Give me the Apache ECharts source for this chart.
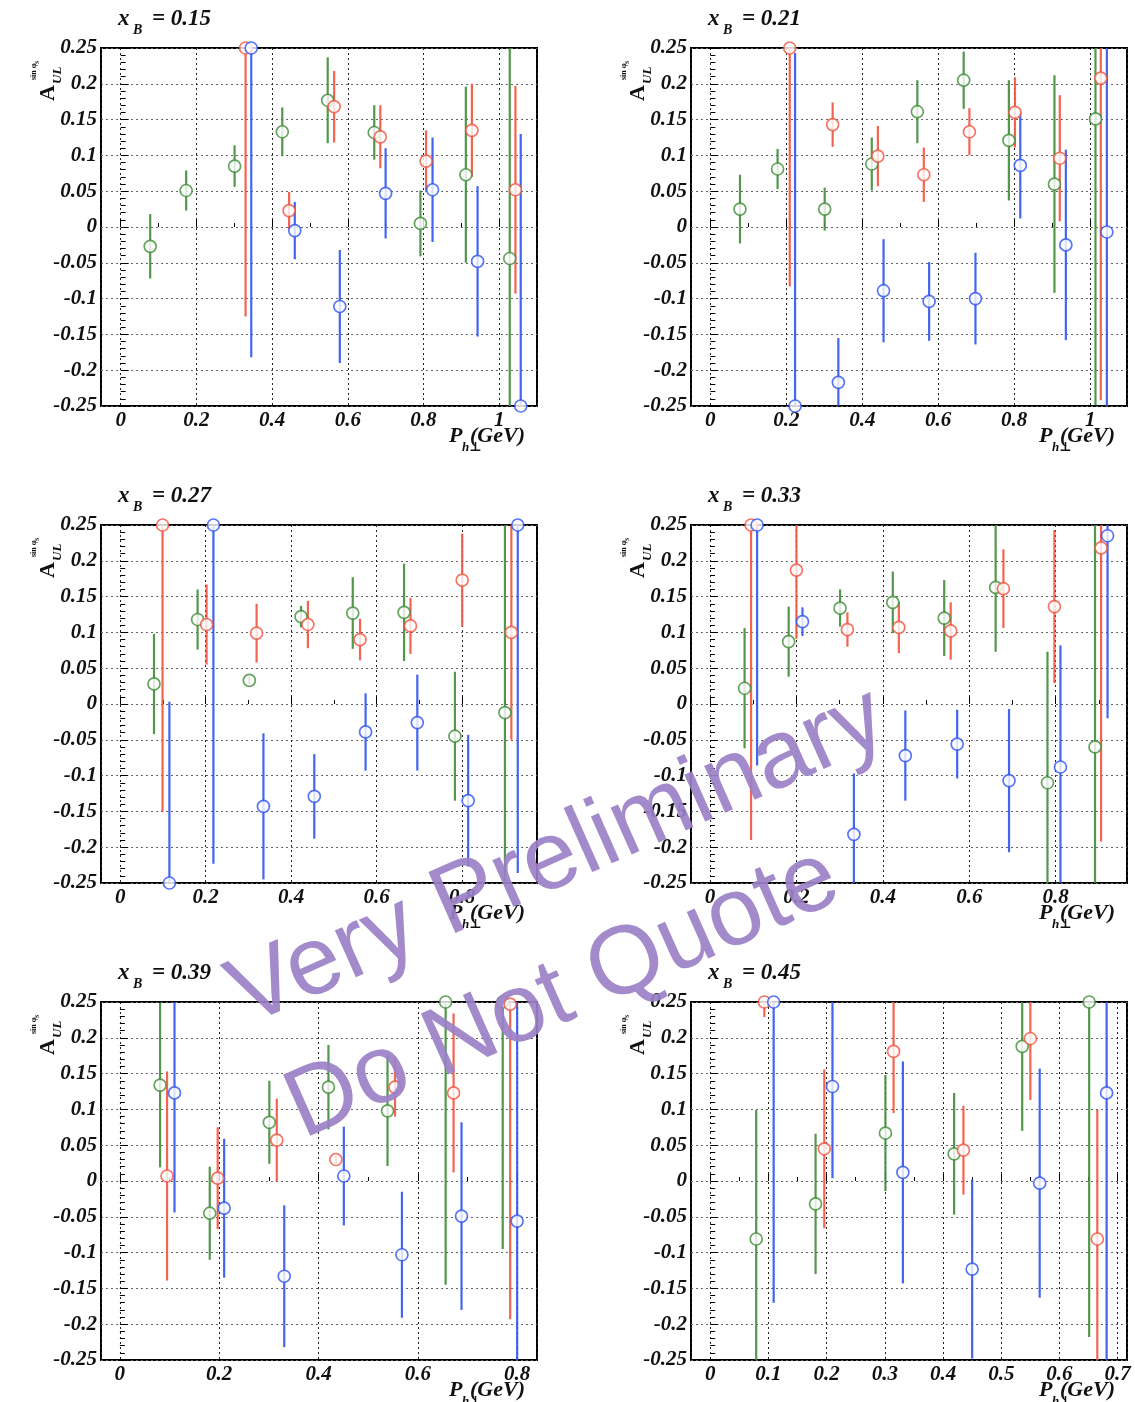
<!DOCTYPE html>
<html>
<head>
<meta charset="utf-8">
<script src="https://cdn.jsdelivr.net/npm/echarts@6/dist/echarts.min.js"></script>
<style>
  html, body { margin: 0; background: #fff; }
  #chart { width: 1135px; height: 1402px; }
</style>
</head>
<body>
<div id="chart"></div>
<script>
// x_B bins, one panel each
const xbLabels = ['0.15', '0.21', '0.27', '0.33', '0.39', '0.45']
const xMin = [-0.052, -0.051, -0.045, -0.044, -0.038, -0.033]
const xMax = [1.1, 1.097, 0.975, 0.965, 0.84, 0.716]
const xStep = [0.2, 0.2, 0.2, 0.2, 0.2, 0.1]

// points: [P_h (GeV), A_UL, error]
const green015 = [[0.078, -0.027, 0.045], [0.173, 0.051, 0.028], [0.301, 0.085, 0.029], [0.427, 0.133, 0.034], [0.547, 0.177, 0.06], [0.670, 0.132, 0.038], [0.792, 0.005, 0.046], [0.912, 0.073, 0.123], [1.028, -0.044, 0.35]]
const red015 = [[0.330, 0.25, 0.375], [0.445, 0.023, 0.026], [0.564, 0.168, 0.05], [0.686, 0.126, 0.044], [0.807, 0.092, 0.043], [0.928, 0.135, 0.065], [1.043, 0.052, 0.145]]
const blue015 = [[0.345, 0.25, 0.432], [0.460, -0.005, 0.04], [0.579, -0.111, 0.079], [0.700, 0.047, 0.063], [0.824, 0.052, 0.073], [0.943, -0.048, 0.105], [1.057, -0.25, 0.38]]

const green021 = [[0.078, 0.025, 0.048], [0.177, 0.081, 0.028], [0.301, 0.025, 0.03], [0.425, 0.088, 0.037], [0.545, 0.161, 0.044], [0.667, 0.205, 0.04], [0.786, 0.121, 0.084], [0.906, 0.06, 0.152], [1.014, 0.151, 0.4]]
const red021 = [[0.209, 0.25, 0.333], [0.322, 0.143, 0.031], [0.441, 0.099, 0.042], [0.562, 0.073, 0.038], [0.682, 0.133, 0.033], [0.802, 0.16, 0.049], [0.920, 0.096, 0.088], [1.028, 0.208, 0.45]]
const blue021 = [[0.223, -0.25, 0.493], [0.337, -0.217, 0.062], [0.456, -0.089, 0.072], [0.576, -0.104, 0.055], [0.698, -0.1, 0.064], [0.816, 0.086, 0.074], [0.936, -0.025, 0.133], [1.044, -0.007, 0.4]]

const green027 = [[0.079, 0.028, 0.07], [0.181, 0.118, 0.042], [0.302, 0.033, 0.005], [0.423, 0.122, 0.015], [0.544, 0.127, 0.05], [0.664, 0.128, 0.068], [0.783, -0.045, 0.09], [0.900, -0.012, 0.4]]
const red027 = [[0.099, 0.25, 0.4], [0.202, 0.111, 0.056], [0.319, 0.099, 0.041], [0.439, 0.111, 0.033], [0.561, 0.09, 0.029], [0.679, 0.109, 0.039], [0.8, 0.173, 0.065], [0.915, 0.1, 0.15]]
const blue027 = [[0.115, -0.25, 0.253], [0.218, 0.25, 0.473], [0.335, -0.143, 0.102], [0.454, -0.129, 0.059], [0.574, -0.039, 0.054], [0.695, -0.026, 0.067], [0.814, -0.135, 0.092], [0.930, 0.25, 0.486]]

const green033 = [[0.08, 0.022, 0.084], [0.182, 0.087, 0.049], [0.301, 0.134, 0.026], [0.423, 0.142, 0.043], [0.542, 0.12, 0.053], [0.661, 0.163, 0.09], [0.781, -0.11, 0.183], [0.891, -0.06, 0.35]]
const red033 = [[0.095, 0.25, 0.44], [0.2, 0.187, 0.096], [0.318, 0.104, 0.024], [0.437, 0.107, 0.036], [0.557, 0.102, 0.04], [0.679, 0.161, 0.055], [0.797, 0.136, 0.107], [0.905, 0.218, 0.41]]
const blue033 = [[0.109, 0.25, 0.336], [0.214, 0.115, 0.02], [0.333, -0.182, 0.085], [0.452, -0.072, 0.063], [0.572, -0.056, 0.048], [0.692, -0.107, 0.1], [0.811, -0.088, 0.17], [0.92, 0.235, 0.255]]

const green039 = [[0.081, 0.134, 0.115], [0.181, -0.045, 0.065], [0.301, 0.082, 0.058], [0.42, 0.131, 0.059], [0.539, 0.098, 0.077], [0.656, 0.25, 0.395], [0.771, 0.25, 0.345]]
const red039 = [[0.095, 0.007, 0.146], [0.197, 0.004, 0.071], [0.316, 0.057, 0.058], [0.435, 0.03, 0.006], [0.554, 0.131, 0.041], [0.672, 0.123, 0.111], [0.786, 0.247, 0.44]]
const blue039 = [[0.11, 0.123, 0.167], [0.21, -0.038, 0.097], [0.331, -0.133, 0.099], [0.451, 0.007, 0.069], [0.568, -0.103, 0.088], [0.688, -0.049, 0.131], [0.8, -0.056, 0.31]]

const green045 = [[0.079, -0.081, 0.18], [0.181, -0.032, 0.098], [0.301, 0.067, 0.081], [0.419, 0.038, 0.085], [0.536, 0.188, 0.118], [0.651, 0.25, 0.468]]
const red045 = [[0.093, 0.25, 0.021], [0.196, 0.045, 0.111], [0.315, 0.181, 0.086], [0.435, 0.043, 0.062], [0.55, 0.199, 0.086], [0.665, -0.081, 0.18]]
const blue045 = [[0.109, 0.25, 0.42], [0.21, 0.132, 0.128], [0.331, 0.012, 0.155], [0.45, -0.123, 0.125], [0.566, -0.003, 0.16], [0.681, 0.123, 0.4]]

const greenSets = [green015, green021, green027, green033, green039, green045]
const redSets = [red015, red021, red027, red033, red039, red045]
const blueSets = [blue015, blue021, blue027, blue033, blue039, blue045]

const COLORS = { green: '#3f8c37', red: '#f2533e', blue: '#2f54ef' }
const SERIF = "'Liberation Serif', 'DejaVu Serif', serif"
const PANELS = [
  { left: 101, top: 48 }, { left: 691, top: 48 },
  { left: 101, top: 525 }, { left: 691, top: 525 },
  { left: 101, top: 1002 }, { left: 691, top: 1002 },
]
const PW = 436
const PH = 358

function txt(text, x, y, size, style, extra) {
  return {
    type: 'text', x, y, z: 10, silent: true,
    style: Object.assign({
      text, font: `${style} ${size}px ${SERIF}`, fill: '#111',
      textAlign: 'left', textVerticalAlign: 'bottom',
    }, extra || {}),
  }
}

function panelGraphics(i) {
  const { left, top } = PANELS[i]
  const right = left + PW
  const bottom = top + PH
  return [
    txt('x', left + 17, top - 17, 23, 'italic bold'),
    txt('B', left + 32, top - 11, 14, 'italic bold'),
    txt('= ' + xbLabels[i], left + 51, top - 17, 23, 'italic bold'),
    txt('P', right - 88, bottom + 41, 22, 'italic bold'),
    txt('h\u22a5', right - 75, bottom + 48, 13, 'italic bold'),
    txt('(GeV)', right - 67, bottom + 41, 22, 'italic bold'),
    {
      type: 'group', x: left - 46, y: top + 53, rotation: Math.PI / 2, silent: true,
      children: [
        txt('A', 0, 4, 22, 'bold'),
        txt('UL', 17, 9, 13, 'italic bold'),
        txt('sin \u03c6', 21, -17, 8, 'bold'),
        txt('S', 37, -15, 6, 'bold'),
      ],
    },
  ]
}

const labelFont = { fontFamily: SERIF, fontStyle: 'italic', fontWeight: 'bold', fontSize: 21, color: '#111' }

const grids = PANELS.map(p => ({
  left: p.left, top: p.top, width: PW, height: PH,
  show: true, borderColor: '#000', borderWidth: 2, backgroundColor: '#fff',
}))

const xAxes = PANELS.map((p, i) => ({
  type: 'value', gridIndex: i, min: xMin[i], max: xMax[i],
  minInterval: xStep[i], maxInterval: xStep[i], splitNumber: 6,
  axisLine: { show: false },
  axisTick: { show: true, inside: true, length: 7, lineStyle: { color: '#000', width: 1 } },
  minorTick: { show: true, splitNumber: 2, length: 4, lineStyle: { color: '#000', width: 1 } },
  axisLabel: Object.assign({ margin: 4, showMinLabel: false, showMaxLabel: false }, labelFont),
  splitLine: { show: true, lineStyle: { color: '#222', width: 1, type: [2, 3] } },
}))

const yAxes = PANELS.map((p, i) => ({
  type: 'value', gridIndex: i, min: -0.25, max: 0.25, interval: 0.05,
  axisLine: { show: false },
  axisTick: { show: true, inside: true, length: 8, lineStyle: { color: '#000', width: 1 } },
  minorTick: { show: true, splitNumber: 5, length: 5, lineStyle: { color: '#000', width: 1 } },
  axisLabel: Object.assign({ margin: 4 }, labelFont),
  splitLine: { show: true, lineStyle: { color: '#666', width: 1, type: [2, 3] } },
}))

function errorSeries(data, color, i) {
  return {
    type: 'custom', xAxisIndex: i, yAxisIndex: i, clip: true, silent: true, z: 3,
    data,
    renderItem(params, api) {
      const x = api.value(0), y = api.value(1), e = api.value(2)
      const lo = api.coord([x, y - e])
      const hi = api.coord([x, y + e])
      return {
        type: 'line',
        shape: { x1: lo[0], y1: lo[1], x2: hi[0], y2: hi[1] },
        style: { stroke: color, lineWidth: 2.2, opacity: 0.9 },
      }
    },
  }
}

function markerSeries(data, color, i) {
  return {
    type: 'scatter', xAxisIndex: i, yAxisIndex: i, clip: false, silent: true, z: 4,
    data: data.map(d => [d[0], d[1]]),
    symbol: 'circle', symbolSize: 12,
    itemStyle: { color: '#fff', borderColor: color, borderWidth: 1.7 },
  }
}

const series = []
PANELS.forEach((p, i) => {
  [[greenSets[i], COLORS.green], [redSets[i], COLORS.red], [blueSets[i], COLORS.blue]].forEach(([d, c]) => {
    series.push(errorSeries(d, c, i))
    series.push(markerSeries(d, c, i))
  })
})

const watermark = [
  {
    type: 'text', x: 558, y: 858, rotation: 24 * Math.PI / 180, z: 100, silent: true,
    style: { text: 'Very Preliminary', font: "97px 'Liberation Sans', Arial, sans-serif", fill: '#9a80c7', opacity: 0.92, textAlign: 'center', textVerticalAlign: 'middle' },
  },
  {
    type: 'text', x: 563, y: 994, rotation: 24 * Math.PI / 180, z: 100, silent: true,
    style: { text: 'Do Not Quote', font: "97px 'Liberation Sans', Arial, sans-serif", fill: '#9a80c7', opacity: 0.92, textAlign: 'center', textVerticalAlign: 'middle' },
  },
]

const chart = echarts.init(document.getElementById('chart'), null, { renderer: 'canvas' })
chart.setOption({
  backgroundColor: '#fff',
  animation: false,
  grid: grids,
  xAxis: xAxes,
  yAxis: yAxes,
  series,
  graphic: PANELS.flatMap((p, i) => panelGraphics(i)).concat(watermark),
})
</script>
</body>
</html>
